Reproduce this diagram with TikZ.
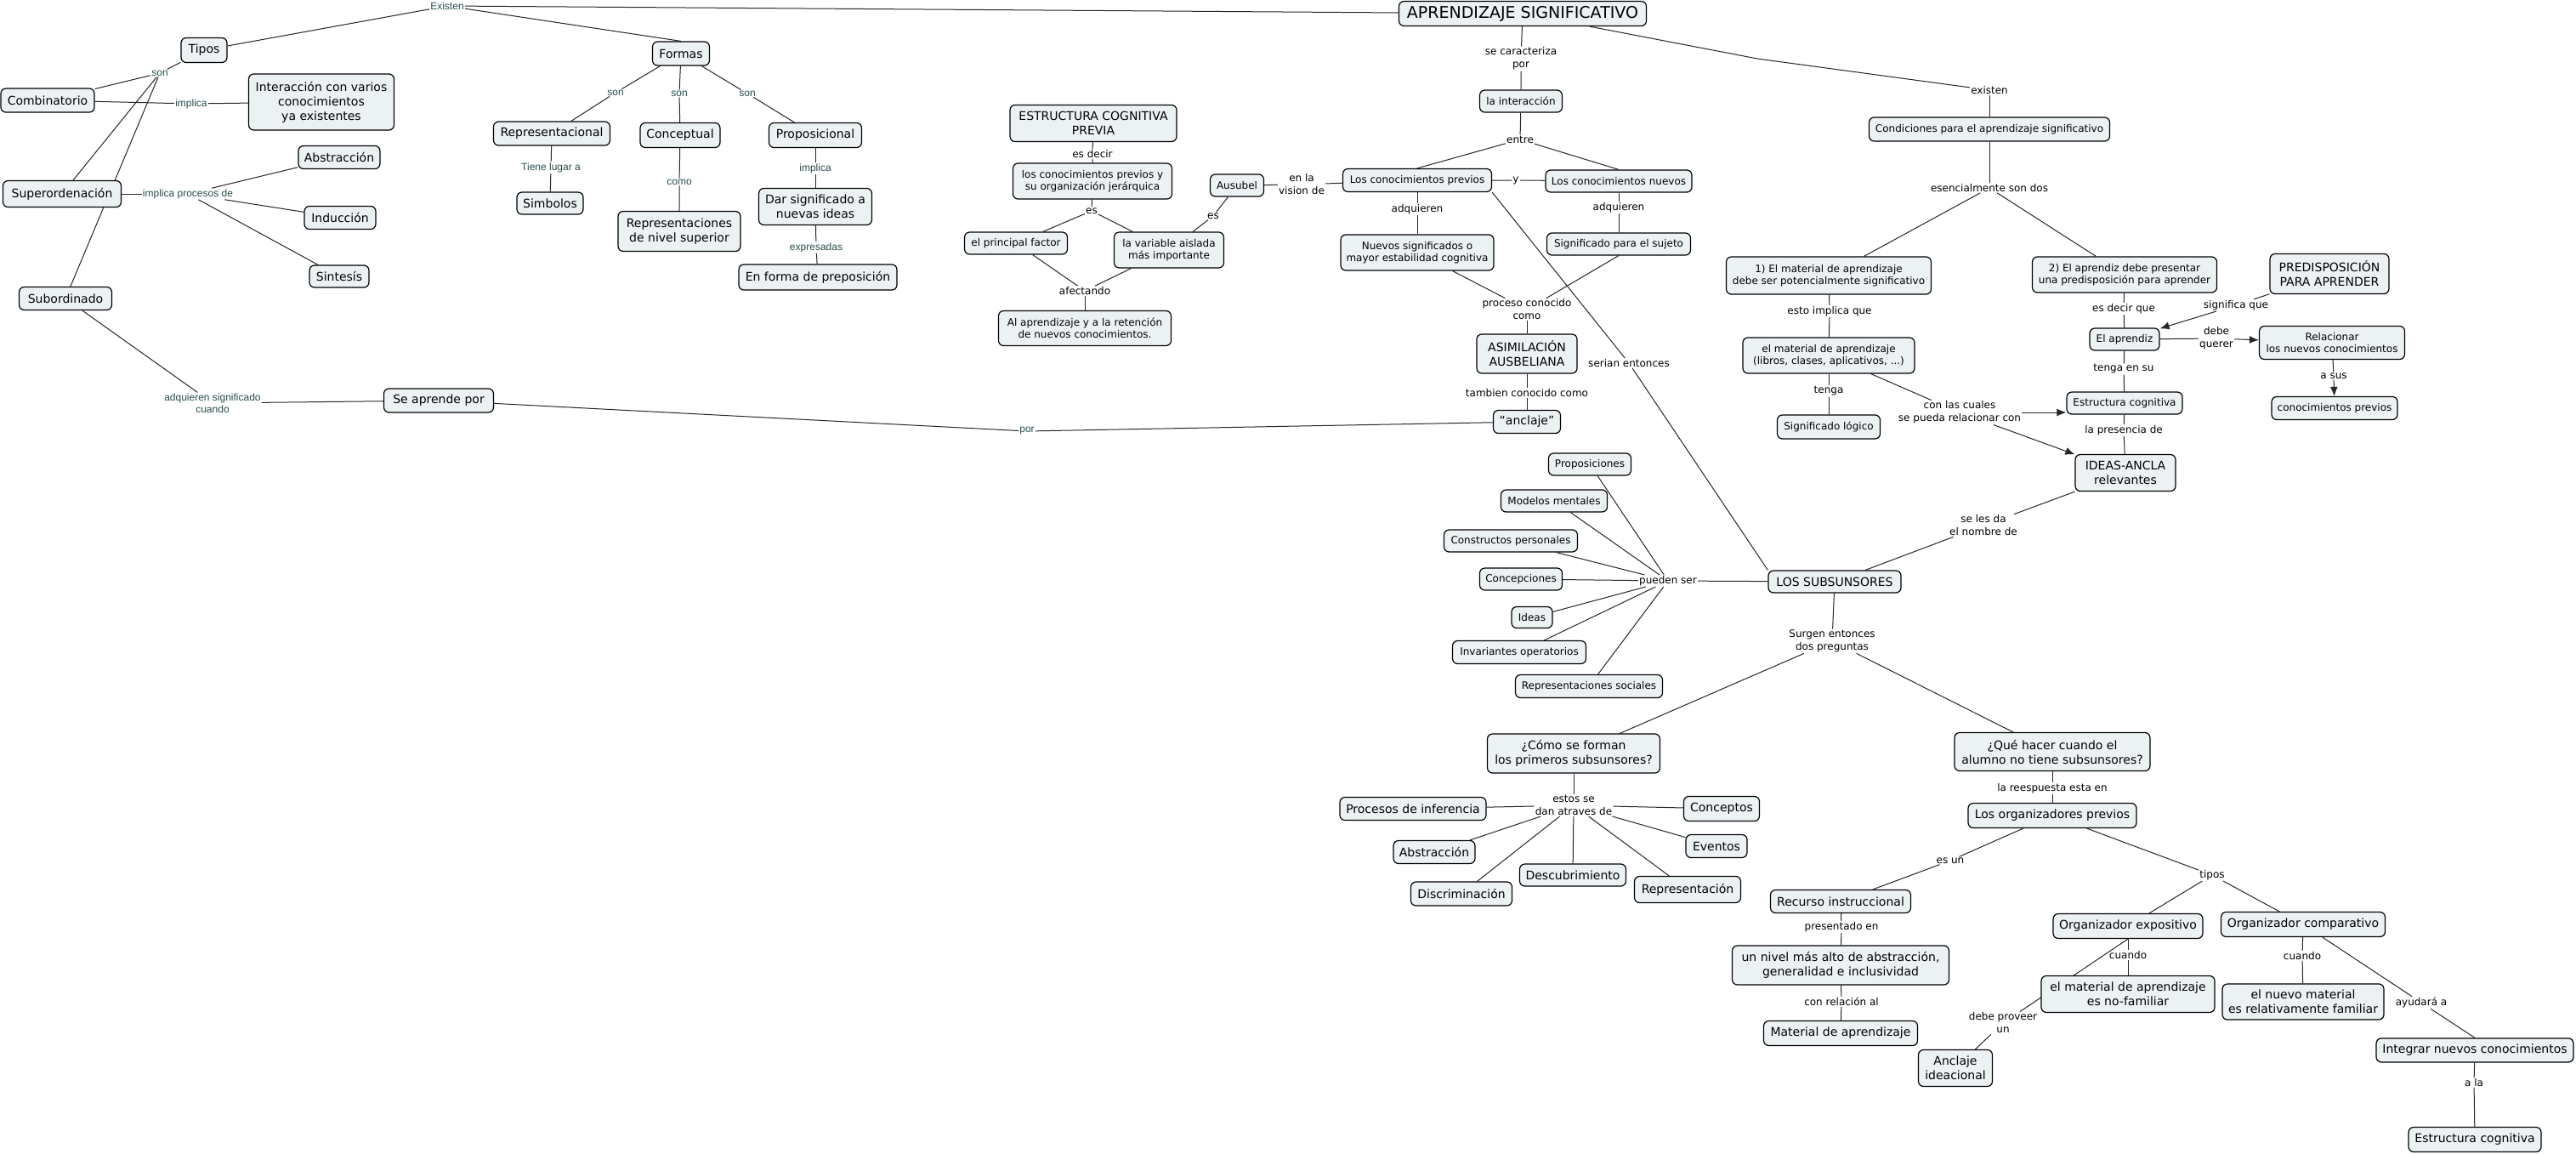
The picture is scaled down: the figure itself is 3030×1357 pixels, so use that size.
\documentclass[tikz,border=0pt]{standalone}
\usepackage{fontspec}
\setmainfont{DejaVu Sans}
\newfontfamily\arialf{Liberation Sans}
\usetikzlibrary{arrows.meta,backgrounds}
\definecolor{boxfill}{RGB}{236,242,244}
\definecolor{lblteal}{RGB}{40,78,78}
\begin{document}
\begin{tikzpicture}[x=1pt,y=-1pt,
  box/.style={draw=black, line width=1.2pt, fill=boxfill, rounded corners=6pt, align=center, inner sep=2pt, text=black},
  fs/.style={font=\fontsize{12}{14.5}\selectfont},
  fm/.style={font=\fontsize{14}{17}\selectfont},
  fl/.style={font=\fontsize{19}{22}\selectfont},
  wh/.style 2 args={minimum width=#1, minimum height=#2},
  lbl/.style={inner sep=1pt, align=center, text=black, font=\fontsize{12}{15}\selectfont},
  tlbl/.style={inner sep=1pt, align=center, text=lblteal, font=\arialf\fontsize{12}{14}\selectfont},
  conn/.style={line width=1pt, draw=black!85},
  arr/.style={conn, -{Latex[length=11pt,width=9pt]}}
]
\useasboundingbox (0,0) rectangle (3030,1357);

% ---------------- left group ----------------
\node[box,fm,wh={54}{29}] (tipos) at (240,59) {Tipos};
\node[box,fm,wh={110}{28}] (comb) at (56,118) {Combinatorio};
\node[box,fm,wh={171}{66}] (inter) at (378,120) {Interacción con varios\\conocimientos\\ya existentes};
\node[box,fm,wh={96}{27}] (abst1) at (399,185) {Abstracción};
\node[box,fm,wh={139}{31}] (super) at (73,228) {Superordenación};
\node[box,fm,wh={84}{27}] (induc) at (400,256) {Inducción};
\node[box,fm,wh={70}{26}] (sint) at (399,325) {Sintesís};
\node[box,fm,wh={109}{27}] (subor) at (77,351) {Subordinado};
\node[box,fm,wh={129}{28}] (seap) at (516,471) {Se aprende por};
\node[box,fm,wh={67}{28}] (formas) at (801,63) {Formas};
\node[box,fm,wh={137}{28}] (repr) at (649,157) {Representacional};
\node[box,fm,wh={94}{29}] (concep) at (800,159) {Conceptual};
\node[box,fm,wh={109}{29}] (propo) at (959,159) {Proposicional};
\node[box,fm,wh={78}{26}] (simb) at (647,239) {Simbolos};
\node[box,fm,wh={144}{47}] (repns) at (799,272) {Representaciones\\de nivel superior};
\node[box,fm,wh={133}{43}] (dar) at (959,243) {Dar significado a\\nuevas ideas};
\node[box,fm,wh={186}{30}] (enforma) at (962,326) {En forma de preposición};

\node[tlbl] (existen) at (526,7) {Existen};
\node[tlbl] (son1) at (188,86) {son};
\node[tlbl] (impl1) at (225,122) {implica};
\node[tlbl] (implproc) at (221,228) {implica procesos de};
\node[tlbl] (adqsig) at (250,474) {adquieren significado\\cuando};
\node[tlbl] (son2) at (724,109) {son};
\node[tlbl] (son3) at (799,110) {son};
\node[tlbl] (son4) at (879,110) {son};
\node[tlbl] (tiene) at (648,197) {Tiene lugar a};
\node[tlbl] (como) at (799,214) {como};
\node[tlbl] (impl2) at (959,198) {implica};
\node[tlbl] (expres) at (960,291) {expresadas};
\node[tlbl] (por) at (1208,507) {por};

% ---------------- middle group ----------------
\node[box,fm,wh={196}{43}] (ecp) at (1286,145) {ESTRUCTURA COGNITIVA\\PREVIA};
\node[box,fs,wh={187}{42}] (lcp) at (1285,213) {los conocimientos previos y\\su organización jerárquica};
\node[box,fs,wh={121}{26}] (princ) at (1195,286) {el principal factor};
\node[box,fs,wh={129}{42}] (varia) at (1375,294) {la variable aislada\\más importante};
\node[box,fs,wh={63}{26}] (ausu) at (1455,218) {Ausubel};
\node[box,fs,wh={203}{41}] (alap) at (1276,386) {Al aprendizaje y a la retención\\de nuevos conocimientos.};
\node[box,fs,wh={175}{27}] (prev) at (1667,212) {Los conocimientos previos};
\node[box,fs,wh={180}{42}] (nuevsig) at (1667,297) {Nuevos significados o\\mayor estabilidad cognitiva};
\node[box,fl,wh={291}{29}] (apr) at (1791,16) {APRENDIZAJE SIGNIFICATIVO};
\node[box,fs,wh={97}{26}] (inte) at (1789,119) {la interacción};
\node[box,fs,wh={172}{26}] (nuev) at (1904,213) {Los conocimientos nuevos};
\node[box,fs,wh={169}{26}] (sigsuj) at (1904,287) {Significado para el sujeto};
\node[box,fm,wh={118}{46}] (asim) at (1796,416) {ASIMILACIÓN\\AUSBELIANA};
\node[box,fm,wh={79}{27}] (anclaje) at (1796,496) {“anclaje”};

\node[lbl] (esdecir) at (1285,181) {es decir};
\node[lbl] (es1) at (1284,248) {es};
\node[lbl] (es2) at (1427,254) {es};
\node[lbl] (envis) at (1531,217) {en la\\vision de};
\node[lbl] (afect) at (1276,342) {afectando};
\node[lbl] (adq1) at (1667,246) {adquieren};
\node[lbl] (secar) at (1789,69) {se caracteriza\\por};
\node[lbl] (entre) at (1788,164) {entre};
\node[lbl] (ylbl) at (1783,212) {y};
\node[lbl] (adq2) at (1904,244) {adquieren};
\node[lbl] (proc) at (1796,364) {proceso conocido\\como};
\node[lbl] (serian) at (1916,427) {serian entonces};
\node[lbl] (tamb) at (1796,462) {tambien conocido como};

% ---------------- right group ----------------
\node[box,fs,wh={283}{28}] (cond) at (2340,152) {Condiciones para el aprendizaje significativo};
\node[box,fs,wh={241}{44}] (mat1) at (2151,324) {1) El material de aprendizaje\\debe ser potencialmente significativo};
\node[box,fs,wh={217}{42}] (apz2) at (2499,323) {2) El aprendiz debe presentar\\una predisposición para aprender};
\node[box,fs,wh={202}{42}] (mat2) at (2151,418) {el material de aprendizaje\\(libros, clases, aplicativos, ...)};
\node[box,fs,wh={121}{28}] (siglog) at (2151,502) {Significado lógico};
\node[box,fs,wh={82}{26}] (elapz) at (2499,399) {El aprendiz};
\node[box,fs,wh={136}{26}] (estc1) at (2499,474) {Estructura cognitiva};
\node[box,fm,wh={118}{43}] (ideas) at (2500,556) {IDEAS-ANCLA\\relevantes};
\node[box,fm,wh={140}{47}] (predis) at (2740,322) {PREDISPOSICIÓN\\PARA APRENDER};
\node[box,fs,wh={171}{39}] (relac) at (2743,403) {Relacionar\\los nuevos conocimientos};
\node[box,fs,wh={148}{27}] (conprev) at (2746,480) {conocimientos previos};
\node[box,fm,wh={156}{26}] (subs) at (2158,684) {LOS SUBSUNSORES};

\coordinate (bend) at (2067,69);
\node[lbl] (existen2) at (2340,106) {existen};
\node[lbl] (esenc) at (2340,221) {esencialmente son dos};
\node[lbl] (estoimpl) at (2152,366) {esto implica que};
\node[lbl] (tenga) at (2151,460) {tenga};
\node[lbl] (conlas) at (2305,485) {con las cuales\\se pueda relacionar con};
\node[lbl] (esdq) at (2498,363) {es decir que};
\node[lbl] (tengasu) at (2498,434) {tenga en su};
\node[lbl] (lapres) at (2498,506) {la presencia de};
\node[lbl] (signif) at (2630,359) {significa que};
\node[lbl] (debeq) at (2607,398) {debe\\querer};
\node[lbl] (asus) at (2745,442) {a sus};
\node[lbl] (seles) at (2333,618) {se les da\\el nombre de};
\node[lbl] (pueden) at (1962,683) {pueden ser};
\node[lbl] (surgen) at (2155,754) {Surgen entonces\\dos preguntas};

% ---------------- subsunsores list ----------------
\node[box,fs,wh={97}{26}] (propos) at (1870,546) {Proposiciones};
\node[box,fs,wh={125}{26}] (modelos) at (1828,589) {Modelos mentales};
\node[box,fs,wh={157}{26}] (constr) at (1777,636) {Constructos personales};
\node[box,fs,wh={97}{26}] (concepc) at (1789,681) {Concepciones};
\node[box,fs,wh={48}{25}] (ideasn) at (1802,726) {Ideas};
\node[box,fs,wh={157}{27}] (invar) at (1787,767) {Invariantes operatorios};
\node[box,fs,wh={173}{27}] (repsoc) at (1869,807) {Representaciones sociales};

% ---------------- bottom group ----------------
\node[box,fm,wh={203}{46}] (como2) at (1851,886) {¿Cómo se forman\\los primeros subsunsores?};
\node[box,fm,wh={172}{27}] (procinf) at (1662,951) {Procesos de inferencia};
\node[box,fm,wh={89}{29}] (conceptos) at (2025,951) {Conceptos};
\node[box,fm,wh={96}{27}] (abst2) at (1687,1002) {Abstracción};
\node[box,fm,wh={72}{27}] (eventos) at (2019,995) {Eventos};
\node[box,fm,wh={125}{26}] (descub) at (1850,1029) {Descubrimiento};
\node[box,fm,wh={119}{28}] (discr) at (1719,1051) {Discriminación};
\node[box,fm,wh={125}{31}] (represent) at (1985,1046) {Representación};
\node[box,fm,wh={230}{45}] (que) at (2414,884) {¿Qué hacer cuando el\\alumno no tiene subsunsores?};
\node[box,fm,wh={198}{29}] (orgprev) at (2414,959) {Los organizadores previos};
\node[box,fm,wh={165}{27}] (recurso) at (2165,1060) {Recurso instruccional};
\node[box,fm,wh={255}{46}] (nivel) at (2165,1135) {un nivel más alto de abstracción,\\generalidad e inclusividad};
\node[box,fm,wh={181}{29}] (matap) at (2165,1215) {Material de aprendizaje};
\node[box,fm,wh={176}{29}] (orgexp) at (2503,1089) {Organizador expositivo};
\node[box,fm,wh={193}{29}] (orgcomp) at (2709,1087) {Organizador comparativo};
\node[box,fm,wh={204}{43}] (nofam) at (2503,1169) {el material de aprendizaje\\es no-familiar};
\node[box,fm,wh={190}{42}] (relfam) at (2709,1178) {el nuevo material\\es relativamente familiar};
\node[box,fm,wh={87}{43}] (anclid) at (2300,1256) {Anclaje\\ideacional};
\node[box,fm,wh={232}{28}] (integ) at (2911,1235) {Integrar nuevos conocimientos};
\node[box,fm,wh={156}{29}] (estc2) at (2911,1340) {Estructura cognitiva};

\node[lbl] (estos) at (1851,947) {estos se\\dan atraves de};
\node[lbl] (reesp) at (2414,927) {la reespuesta esta en};
\node[lbl] (esun) at (2294,1012) {es un};
\node[lbl] (tipos2) at (2602,1029) {tipos};
\node[lbl] (presen) at (2166,1090) {presentado en};
\node[lbl] (conrel) at (2166,1178) {con relación al};
\node[lbl] (cuando1) at (2503,1123) {cuando};
\node[lbl] (cuando2) at (2708,1124) {cuando};
\node[lbl] (ayud) at (2848,1179) {ayudará a};
\node[lbl] (debep) at (2356,1203) {debe proveer\\un};
\node[lbl] (ala) at (2910,1273) {a la};

% ---------------- connectors ----------------
\begin{pgfonlayer}{background}
\fill[white] (0,0) rectangle (3030,1357);
% left
\draw[conn] (tipos) -- (existen);
\draw[conn] (existen) -- (apr);
\draw[conn] (existen) -- (formas.north);
\draw[conn] (tipos) -- (son1);
\draw[conn] (son1) -- (comb);
\draw[conn] (son1) -- (super);
\draw[conn] (son1) -- (subor);
\draw[conn] (comb) -- (impl1) -- (inter);
\draw[conn] (super) -- (implproc);
\draw[conn] (implproc) -- (abst1);
\draw[conn] (implproc) -- (induc);
\draw[conn] (implproc) -- (sint);
\draw[conn] (subor) -- (adqsig) -- (seap);
\draw[conn] (seap) -- (por) -- (anclaje);
\draw[conn] (formas) -- (son2) -- (repr);
\draw[conn] (formas) -- (son3) -- (concep);
\draw[conn] (formas) -- (son4) -- (propo);
\draw[conn] (repr) -- (tiene) -- (simb);
\draw[conn] (concep) -- (como) -- (repns);
\draw[conn] (propo) -- (impl2) -- (dar);
\draw[conn] (dar) -- (expres) -- (enforma);
% middle
\draw[conn] (ecp) -- (esdecir) -- (lcp);
\draw[conn] (lcp) -- (es1);
\draw[conn] (es1) -- (princ);
\draw[conn] (es1) -- (varia);
\draw[conn] (princ) -- (afect);
\draw[conn] (varia) -- (afect);
\draw[conn] (afect) -- (alap);
\draw[conn] (ausu) -- (es2) -- (varia);
\draw[conn] (ausu) -- (envis) -- (prev);
\draw[conn] (apr) -- (secar) -- (inte);
\draw[conn] (inte) -- (entre);
\draw[conn] (entre) -- (prev.north);
\draw[conn] (entre) -- (nuev.north);
\draw[conn] (prev) -- (ylbl) -- (nuev);
\draw[conn] (prev) -- (adq1) -- (nuevsig);
\draw[conn] (nuev) -- (adq2) -- (sigsuj);
\draw[conn] (nuevsig) -- (proc);
\draw[conn] (sigsuj.south) -- (proc);
\draw[conn] (proc) -- (asim);
\draw[conn] (asim) -- (tamb) -- (anclaje);
\draw[conn] (prev.south east) -- (serian);
\draw[conn] (serian) -- (subs.north west);
% right
\draw[conn] (apr) -- (bend) -- (existen2);
\draw[conn] (existen2) -- (cond);
\draw[conn] (cond) -- (esenc);
\draw[conn] (esenc) -- (mat1);
\draw[conn] (esenc) -- (apz2);
\draw[conn] (mat1) -- (estoimpl) -- (mat2);
\draw[conn] (mat2) -- (tenga) -- (siglog);
\draw[conn] (mat2) -- (conlas);
\draw[arr] (conlas.east) -- (conlas.east -| estc1.west);
\draw[arr] (conlas) -- (ideas);
\draw[conn] (apz2) -- (esdq) -- (elapz);
\draw[conn] (elapz) -- (tengasu) -- (estc1);
\draw[conn] (estc1) -- (lapres) -- (ideas);
\draw[conn] (predis) -- (signif);
\draw[arr] (signif) -- (elapz);
\draw[conn] (elapz) -- (debeq);
\draw[arr] (debeq) -- (relac);
\draw[conn] (relac) -- (asus);
\draw[arr] (asus) -- (conprev);
\draw[conn] (ideas) -- (seles) -- (subs);
\draw[conn] (subs) -- (pueden);
\foreach \n in {propos,modelos,constr,concepc,ideasn,invar,repsoc}
  \draw[conn] (pueden) -- (\n);
\draw[conn] (subs) -- (surgen);
\draw[conn] (surgen) -- (como2);
\draw[conn] (surgen) -- (que);
% bottom
\draw[conn] (como2) -- (estos);
\foreach \n in {procinf,conceptos,abst2,eventos,descub,discr,represent}
  \draw[conn] (estos) -- (\n);
\draw[conn] (que) -- (reesp) -- (orgprev);
\draw[conn] (orgprev) -- (esun) -- (recurso);
\draw[conn] (orgprev) -- (tipos2);
\draw[conn] (tipos2) -- (orgexp);
\draw[conn] (tipos2) -- (orgcomp);
\draw[conn] (recurso) -- (presen) -- (nivel);
\draw[conn] (nivel) -- (conrel) -- (matap);
\draw[conn] (orgexp) -- (cuando1) -- (nofam);
\draw[conn] (orgexp.south) -- (debep);
\draw[conn] (debep) -- (anclid);
\draw[conn] (orgcomp) -- (cuando2) -- (relfam);
\draw[conn] (orgcomp) -- (ayud);
\draw[conn] (ayud) -- (integ.north);
\draw[conn] (integ) -- (ala) -- (estc2);
\end{pgfonlayer}
\end{tikzpicture}
\end{document}
